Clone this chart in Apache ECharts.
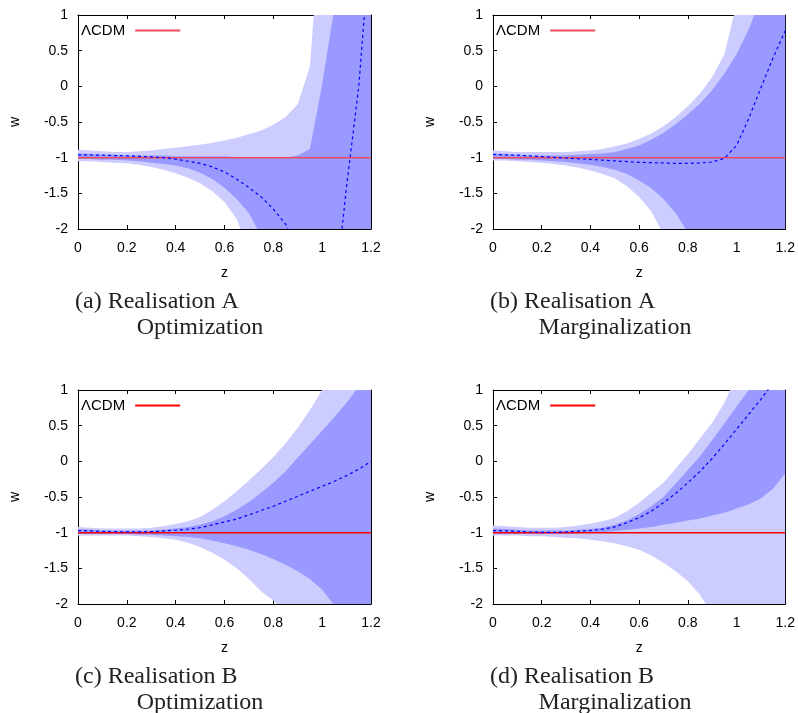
<!DOCTYPE html>
<html>
<head>
<meta charset="utf-8">
<title>w(z) reconstructions</title>
<script src="https://cdn.jsdelivr.net/npm/echarts@6/dist/echarts.min.js"></script>
<style>
html, body { margin: 0; padding: 0; background: #fff; }
#main { width: 798px; height: 713px; }
</style>
</head>
<body>
<div id="main"></div>
<script>
// redshift samples shared by all bands / curves
var zs = [0, 0.05, 0.1, 0.15, 0.2, 0.25, 0.3, 0.35, 0.4, 0.45, 0.5, 0.55, 0.6,
          0.65, 0.7, 0.75, 0.8, 0.85, 0.9, 0.95, 1.0, 1.05, 1.1, 1.15, 1.2];
var lcdmW = -1;
var zTicks = {min: 0, max: 1.2, step: 0.2};
var wTicks = {min: -2, max: 1, step: 0.5};

// (a) realisation A, optimization  (LU/LL = outer band, DU/DL = inner band)
var aLU = [-0.89,-0.90,-0.91,-0.92,-0.92,-0.91,-0.90,-0.88,-0.86,-0.84,-0.82,-0.79,-0.76,-0.72,-0.67,-0.62,-0.54,-0.43,-0.25,0.28,2.6,3,3,3,3];
var aDU = [-0.94,-0.95,-0.96,-0.96,-0.97,-0.97,-0.97,-0.97,-0.98,-0.98,-0.98,-0.98,-0.98,-0.99,-0.99,-1.0,-1.0,-1.0,-0.97,-0.88,0.03,1.1,3,3,3];
var aDL = [-1.02,-1.02,-1.03,-1.03,-1.04,-1.05,-1.07,-1.09,-1.11,-1.15,-1.21,-1.3,-1.42,-1.58,-1.78,-2.1,-2.5,-3,-3,-3,-3,-3,-3,-3,-3];
var aLL = [-1.05,-1.05,-1.06,-1.07,-1.08,-1.10,-1.13,-1.17,-1.22,-1.28,-1.36,-1.47,-1.62,-1.86,-2.3,-3,-3,-3,-3,-3,-3,-3,-3,-3,-3];
var aMed = [-0.96,-0.962,-0.965,-0.97,-0.975,-0.982,-0.99,-1.0,-1.02,-1.05,-1.08,-1.13,-1.2,-1.3,-1.42,-1.55,-1.72,-1.93,-2.3,null,null,-3.0,-1.4,0.0,2.2];

// (b) realisation A, marginalization
var bLU = [-0.9,-0.91,-0.92,-0.92,-0.92,-0.92,-0.92,-0.91,-0.9,-0.88,-0.84,-0.8,-0.74,-0.66,-0.56,-0.43,-0.28,-0.1,0.13,0.45,1.15,2,3,3,3];
var bDU = [-0.94,-0.95,-0.96,-0.97,-0.97,-0.97,-0.97,-0.96,-0.95,-0.94,-0.92,-0.88,-0.83,-0.75,-0.65,-0.53,-0.39,-0.24,-0.05,0.18,0.45,0.8,1.25,1.8,2.4];
var bDL = [-1.02,-1.02,-1.03,-1.03,-1.04,-1.05,-1.06,-1.08,-1.1,-1.13,-1.17,-1.23,-1.32,-1.43,-1.58,-1.78,-2.05,-2.5,-3,-3,-3,-3,-3,-3,-3];
var bLL = [-1.04,-1.04,-1.05,-1.06,-1.07,-1.09,-1.11,-1.14,-1.18,-1.23,-1.29,-1.4,-1.55,-1.75,-2.08,-2.6,-3,-3,-3,-3,-3,-3,-3,-3,-3];
var bMed = [-0.955,-0.96,-0.965,-0.975,-0.985,-0.995,-1.005,-1.015,-1.025,-1.035,-1.045,-1.055,-1.065,-1.07,-1.075,-1.08,-1.08,-1.075,-1.06,-1.01,-0.83,-0.45,-0.02,0.4,0.78];

// (c) realisation B, optimization
var cLU = [-0.92,-0.93,-0.94,-0.94,-0.94,-0.94,-0.93,-0.91,-0.88,-0.84,-0.78,-0.68,-0.56,-0.42,-0.27,-0.11,0.06,0.25,0.47,0.72,1.0,1.3,1.6,1.9,2.2];
var cDU = [-0.95,-0.96,-0.97,-0.97,-0.97,-0.97,-0.97,-0.96,-0.94,-0.92,-0.89,-0.84,-0.77,-0.68,-0.57,-0.44,-0.3,-0.14,0.05,0.24,0.43,0.62,0.82,1.05,1.3];
var cDL = [-1.02,-1.02,-1.02,-1.02,-1.02,-1.03,-1.03,-1.04,-1.05,-1.06,-1.08,-1.11,-1.15,-1.19,-1.24,-1.3,-1.37,-1.45,-1.54,-1.65,-1.8,-2.02,-2.4,-2.8,-3.2];
var cLL = [-1.04,-1.04,-1.04,-1.04,-1.04,-1.05,-1.06,-1.08,-1.1,-1.14,-1.2,-1.28,-1.38,-1.5,-1.65,-1.82,-1.95,-2.13,-2.4,-3,-3,-3,-3,-3,-3];
var cMed = [-0.97,-0.975,-0.98,-0.985,-0.99,-0.99,-0.985,-0.975,-0.965,-0.95,-0.93,-0.89,-0.85,-0.81,-0.75,-0.69,-0.63,-0.56,-0.49,-0.42,-0.35,-0.28,-0.2,-0.11,0.0];

// (d) realisation B, marginalization
var dLU = [-0.9,-0.91,-0.92,-0.93,-0.93,-0.93,-0.92,-0.9,-0.87,-0.84,-0.79,-0.7,-0.58,-0.44,-0.3,-0.1,0.1,0.32,0.54,0.82,1.2,1.6,2,2.4,2.8];
var dDU = [-0.94,-0.95,-0.96,-0.97,-0.97,-0.97,-0.97,-0.96,-0.95,-0.93,-0.89,-0.83,-0.74,-0.63,-0.5,-0.31,-0.12,0.07,0.3,0.53,0.77,1.0,1.25,1.55,1.85];
var dDL = [-1.02,-1.02,-1.02,-1.02,-1.02,-1.02,-1.02,-1.01,-1.0,-0.99,-0.98,-0.96,-0.94,-0.92,-0.89,-0.86,-0.83,-0.8,-0.76,-0.72,-0.66,-0.6,-0.52,-0.38,-0.17];
var dLL = [-1.04,-1.04,-1.04,-1.05,-1.05,-1.06,-1.07,-1.08,-1.1,-1.12,-1.15,-1.19,-1.24,-1.32,-1.42,-1.54,-1.68,-1.87,-2.15,-2.6,-3,-3,-3,-3,-3];
var dMed = [-0.97,-0.975,-0.98,-0.99,-0.995,-0.995,-0.99,-0.98,-0.97,-0.95,-0.92,-0.86,-0.79,-0.7,-0.58,-0.45,-0.3,-0.14,0.04,0.24,0.45,0.66,0.87,1.1,1.33];

var LIGHT = '#ccccff', DARK = '#9999ff';
var SANS = '"Liberation Sans", Arial, sans-serif';
var SERIF = '"Liberation Serif", "DejaVu Serif", serif';

var panels = [
    {lu: aLU, du: aDU, dl: aDL, ll: aLL, med: aMed, left: 78,  top: 15,  red: '#f04a5c', cap: ['(a) Realisation A', 'Optimization']},
    {lu: bLU, du: bDU, dl: bDL, ll: bLL, med: bMed, left: 493, top: 15,  red: '#f04a5c', cap: ['(b) Realisation A', 'Marginalization']},
    {lu: cLU, du: cDU, dl: cDL, ll: cLL, med: cMed, left: 78,  top: 390, red: '#ff0000', cap: ['(c) Realisation B', 'Optimization']},
    {lu: dLU, du: dDU, dl: dDL, ll: dLL, med: dMed, left: 493, top: 390, red: '#ff0000', cap: ['(d) Realisation B', 'Marginalization']}
];

function pairs(vals) {
    return zs.map(function (z, i) { return [z, vals[i] == null ? '-' : vals[i]]; });
}
function triples(lo, hi) {
    return zs.map(function (z, i) { return [z, lo[i], hi[i]]; });
}

// whole band as one polygon (drawn once, from the first item), clipped to the grid
function renderBand(color) {
    return function (params, api) {
        if (params.dataIndexInside !== 0) return;
        var n = params.dataInsideLength, top = [], bot = [];
        for (var k = 0; k < n; k++) {
            top.push(api.coord([api.value(0, k), api.value(2, k)]));
            bot.push(api.coord([api.value(0, k), api.value(1, k)]));
        }
        var cs = params.coordSys;
        return {
            type: 'polygon',
            shape: {points: top.concat(bot.reverse())},
            style: {fill: color, stroke: null},
            clipPath: {type: 'rect', shape: {x: cs.x, y: cs.y, width: cs.width, height: cs.height}},
            silent: true
        };
    };
}

var grid = [], xAxis = [], yAxis = [], series = [], legend = [], graphic = [];
var frameLine = {show: true, onZero: false, lineStyle: {color: '#000', width: 1}};
var tick = {show: true, inside: true, length: 4, lineStyle: {color: '#000'}};

panels.forEach(function (p, i) {
    grid.push({left: p.left, top: p.top, width: 293, height: 214, show: false});
    // bottom + top x axes (top one just mirrors the ticks, gnuplot style)
    xAxis.push({gridIndex: i, type: 'value', position: 'bottom', min: zTicks.min, max: zTicks.max, interval: zTicks.step,
        name: 'z', nameLocation: 'middle', nameGap: 37,
        nameTextStyle: {fontFamily: SANS, fontSize: 14, color: '#000'},
        axisLine: frameLine, axisTick: tick, splitLine: {show: false},
        axisLabel: {margin: 12, fontFamily: SANS, fontSize: 14, color: '#000'}});
    xAxis.push({gridIndex: i, type: 'value', position: 'top', min: zTicks.min, max: zTicks.max, interval: zTicks.step,
        axisLine: frameLine, axisTick: tick, splitLine: {show: false}, axisLabel: {show: false}});
    yAxis.push({gridIndex: i, type: 'value', position: 'left', min: wTicks.min, max: wTicks.max, interval: wTicks.step,
        name: 'w', nameLocation: 'middle', nameGap: 56,
        nameTextStyle: {fontFamily: SANS, fontSize: 14, color: '#000'},
        axisLine: frameLine, axisTick: tick, splitLine: {show: false},
        axisLabel: {margin: 10, fontFamily: SANS, fontSize: 14, color: '#000'}});
    yAxis.push({gridIndex: i, type: 'value', position: 'right', min: wTicks.min, max: wTicks.max, interval: wTicks.step,
        axisLine: frameLine, axisTick: tick, splitLine: {show: false}, axisLabel: {show: false}});

    var ax = {xAxisIndex: 2 * i, yAxisIndex: 2 * i, silent: true, animation: false};
    // outer (light) band, then inner (dark) band on top
    series.push(Object.assign({type: 'custom', data: triples(p.ll, p.lu), renderItem: renderBand(LIGHT),
        encode: {x: 0, y: [1, 2]}, z: 1}, ax));
    series.push(Object.assign({type: 'custom', data: triples(p.dl, p.du), renderItem: renderBand(DARK),
        encode: {x: 0, y: [1, 2]}, z: 1}, ax));
    // LCDM reference
    series.push(Object.assign({type: 'line', name: 'ΛCDM', symbol: 'none', z: 3,
        data: [[zTicks.min, lcdmW], [zTicks.max, lcdmW]], itemStyle: {color: p.red},
        lineStyle: {color: p.red, width: 1.5}}, ax));
    // reconstructed w(z)
    series.push(Object.assign({type: 'line', symbol: 'none', data: pairs(p.med), connectNulls: false, z: 4,
        lineStyle: {color: '#0000ff', width: 1.2, type: [3, 3]}}, ax));

    legend.push({left: p.left - 2, top: p.top + 3, orient: 'horizontal', align: 'right', selectedMode: false,
        itemWidth: 45, itemHeight: 2,
        data: [{name: 'ΛCDM', icon: 'rect', itemStyle: {color: p.red}}],
        textStyle: {fontFamily: SANS, fontSize: 15, color: '#000', padding: [0, 5, 0, 0]}});

    graphic.push({type: 'text', x: p.left - 3, y: p.top + 287,
        style: {text: p.cap[0], font: '24px ' + SERIF, fill: '#222', textAlign: 'left', textVerticalAlign: 'middle'}});
    graphic.push({type: 'text', x: p.left + 122, y: p.top + 313,
        style: {text: p.cap[1], font: '24px ' + SERIF, fill: '#222', textAlign: 'center', textVerticalAlign: 'middle'}});
});

var myChart = echarts.init(document.getElementById('main'), null, {renderer: 'canvas'});
myChart.setOption({
    animation: false,
    backgroundColor: '#fff',
    grid: grid,
    xAxis: xAxis,
    yAxis: yAxis,
    legend: legend,
    series: series,
    graphic: graphic
});
</script>
</body>
</html>
